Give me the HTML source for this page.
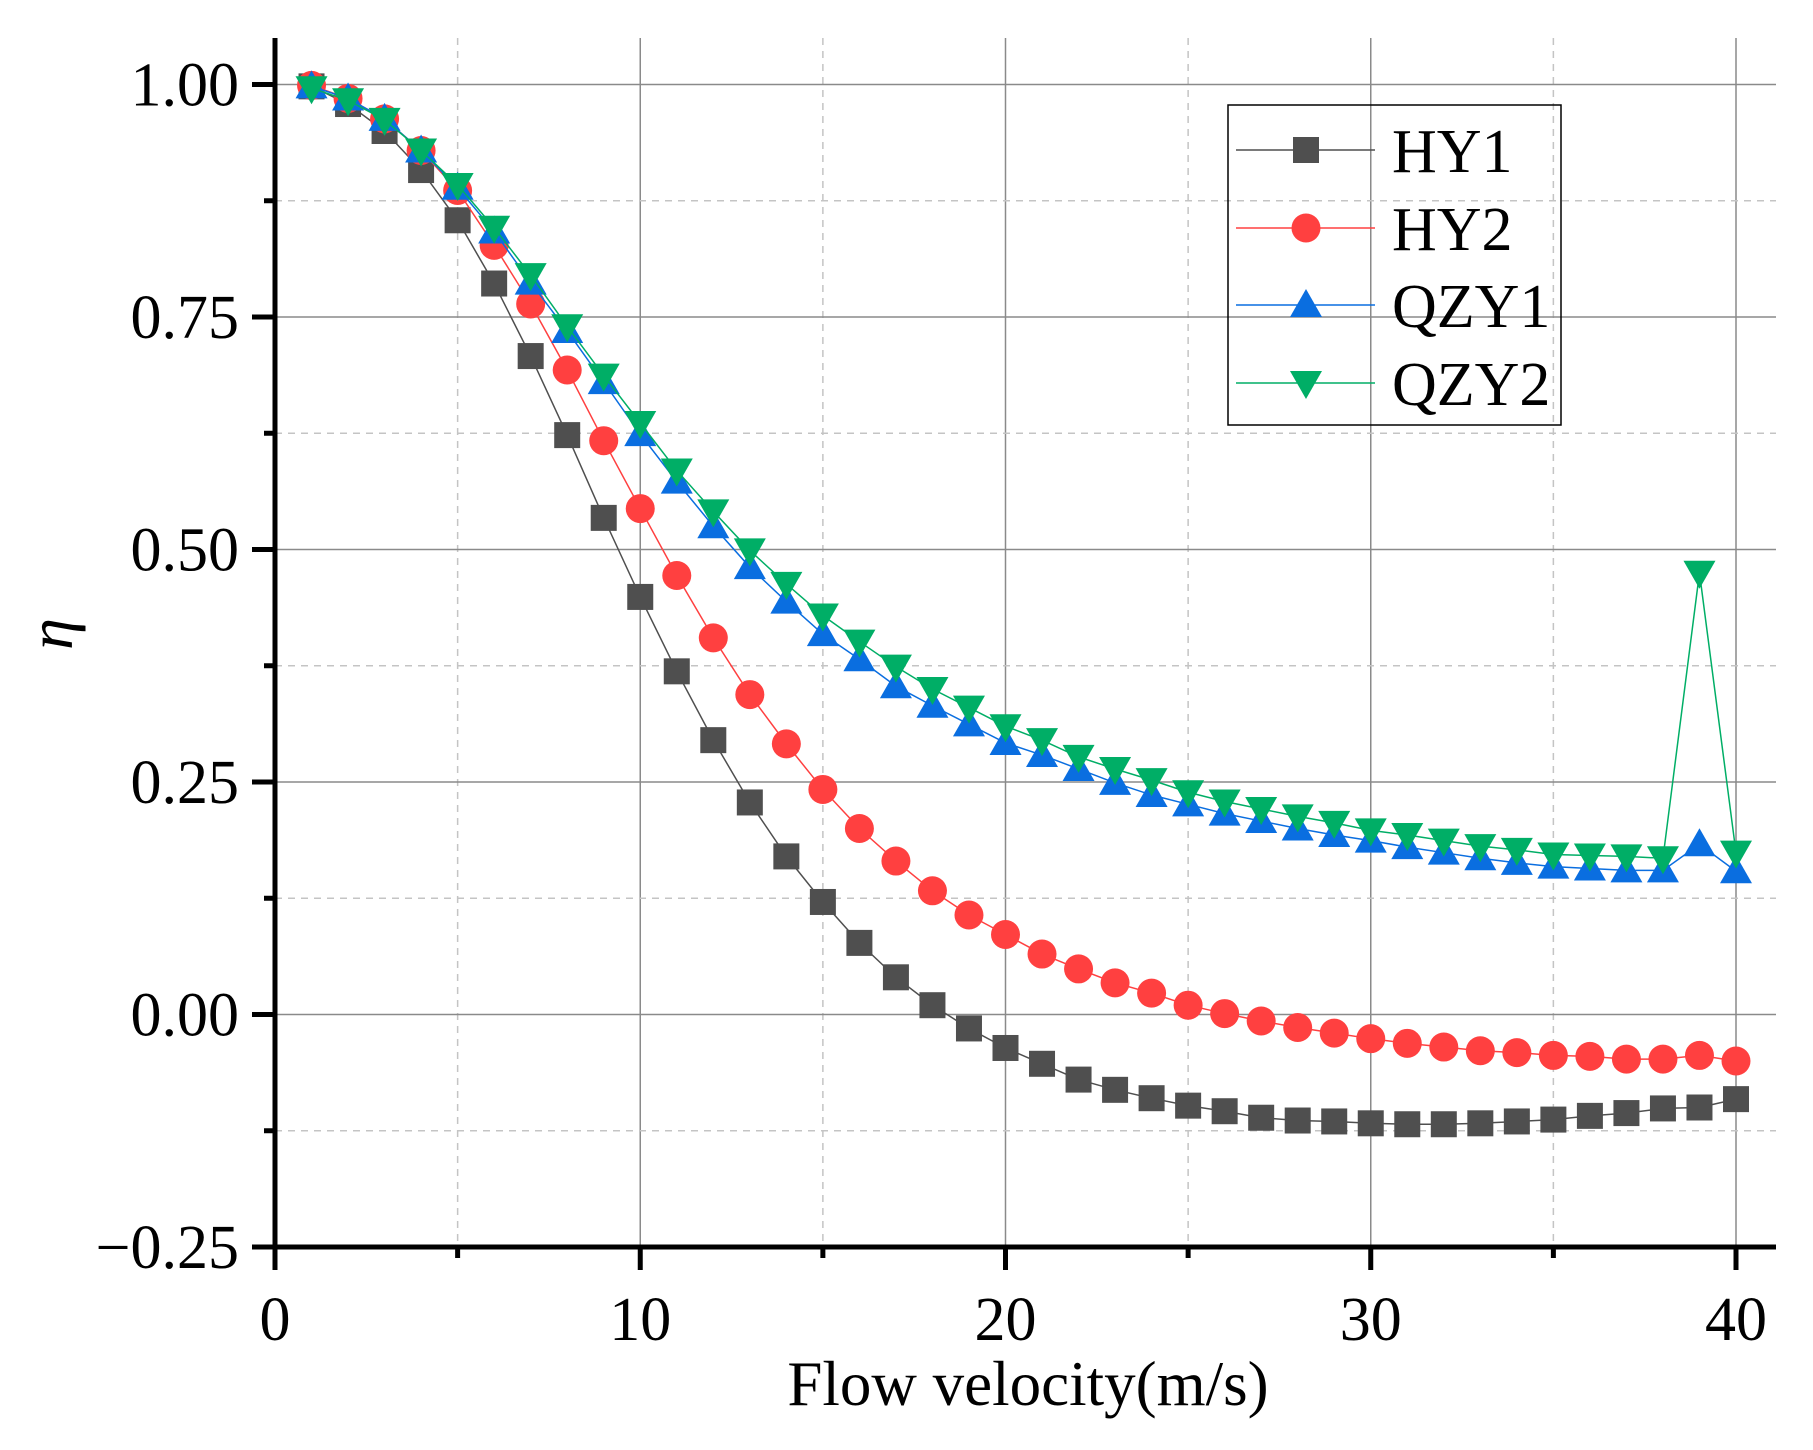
<!DOCTYPE html>
<html><head><meta charset="utf-8"><style>
html,body{margin:0;padding:0;background:#fff;}
svg text{font-family:"Liberation Serif",serif;fill:#000;}
</style></head><body>
<svg id="chart" width="1813" height="1445" xmlns="http://www.w3.org/2000/svg">
<g id="grid"></g>
<g id="series"></g>
<g id="axes"></g>
<g id="legend"></g>
</svg>
<script>
const xs = [1,2,3,4,5,6,7,8,9,10,11,12,13,14,15,16,17,18,19,20,21,22,23,24,25,26,27,28,29,30,31,32,33,34,35,36,37,38,39,40];
const hy1 = [0.998,0.979,0.950,0.908,0.854,0.786,0.708,0.623,0.534,0.449,0.369,0.295,0.228,0.170,0.121,0.077,0.040,0.010,-0.015,-0.036,-0.053,-0.070,-0.081,-0.090,-0.098,-0.104,-0.111,-0.114,-0.115,-0.117,-0.118,-0.118,-0.117,-0.115,-0.113,-0.109,-0.106,-0.101,-0.100,-0.091];
const hy2 = [0.999,0.985,0.963,0.929,0.886,0.827,0.764,0.693,0.617,0.544,0.472,0.405,0.344,0.291,0.242,0.200,0.165,0.133,0.107,0.086,0.065,0.049,0.034,0.023,0.010,0.001,-0.007,-0.014,-0.020,-0.026,-0.031,-0.035,-0.039,-0.041,-0.044,-0.045,-0.048,-0.048,-0.044,-0.050];
const qzy1 = [0.998,0.985,0.963,0.929,0.889,0.842,0.787,0.735,0.680,0.624,0.573,0.525,0.481,0.444,0.409,0.382,0.353,0.332,0.312,0.292,0.279,0.264,0.249,0.236,0.226,0.216,0.208,0.200,0.193,0.187,0.180,0.174,0.168,0.163,0.159,0.157,0.155,0.155,0.183,0.154];
const qzy2 = [0.996,0.983,0.962,0.929,0.892,0.846,0.795,0.740,0.687,0.636,0.585,0.541,0.499,0.463,0.429,0.401,0.374,0.350,0.330,0.310,0.295,0.277,0.264,0.252,0.239,0.229,0.221,0.213,0.206,0.198,0.193,0.187,0.181,0.177,0.172,0.171,0.170,0.168,0.475,0.174];
const xTicks = [0,10,20,30,40];
const xTickLabels = ["0","10","20","30","40"];
const yTicks = [-0.25,0,0.25,0.5,0.75,1.0];
const yTickLabels = ["\u22120.25","0.00","0.25","0.50","0.75","1.00"];

const NS="http://www.w3.org/2000/svg";
const X0=275, X1=1736, Y0=1247, Y1=84.5;
const AX_R=1776, AX_T=38;
function xS(v){return X0+(v-0)/40*(X1-X0);}
function yS(v){return Y0-(v+0.25)/1.25*(Y0-Y1);}
function mk(tag,attrs,parent){const e=document.createElementNS(NS,tag);for(const k in attrs)e.setAttribute(k,attrs[k]);parent.appendChild(e);return e;}
const grid=document.getElementById('grid'),ser=document.getElementById('series'),axes=document.getElementById('axes'),leg=document.getElementById('legend');

for(let v=5;v<=40;v+=5){const major=v%10===0;
 const l=mk('line',{x1:xS(v),x2:xS(v),y1:AX_T,y2:Y0,stroke:major?'#8a8a8a':'#c4c4c4','stroke-width':1.5,'stroke-dasharray':major?'none':'7,6'},grid);
 
 }
for(let i=1;i<=10;i++){const v=-0.25+i*0.125;const major=i%2===0;
 const l=mk('line',{x1:X0,x2:AX_R,y1:yS(v),y2:yS(v),stroke:major?'#8a8a8a':'#c4c4c4','stroke-width':1.5,'stroke-dasharray':major?'none':'7,6'},grid);
 
 }

let a=mk('line',{x1:X0,x2:X0,y1:AX_T,y2:Y0+2.5,stroke:'#000','stroke-width':5},axes);


a=mk('line',{x1:X0-2.5,x2:AX_R,y1:Y0,y2:Y0,stroke:'#000','stroke-width':5},axes);


for(let v=0;v<=40;v+=5){const major=v%10===0;
 const t=mk('line',{x1:xS(v),x2:xS(v),y1:Y0,y2:Y0+(major?23:11),stroke:'#000','stroke-width':5},axes);
 
 }
for(let i=0;i<=10;i++){const v=-0.25+i*0.125;const major=i%2===0;
 const t=mk('line',{x1:X0,x2:X0-(major?23:11),y1:yS(v),y2:yS(v),stroke:'#000','stroke-width':5},axes);
 
 }
xTicks.forEach((v,i)=>{const t=mk('text',{x:xS(v),y:1340,'text-anchor':'middle','font-size':62},axes);t.textContent=xTickLabels[i];
 
 });
yTicks.forEach((v,i)=>{const t=mk('text',{x:239,y:yS(v)+21,'text-anchor':'end','font-size':62},axes);t.textContent=yTickLabels[i];
 
 });
let tt=mk('text',{x:1028,y:1405,'text-anchor':'middle','font-size':63},axes);tt.textContent='Flow velocity(m/s)';


tt=mk('text',{x:0,y:0,'text-anchor':'middle','font-size':64,'font-style':'italic',transform:'translate(72,634) rotate(-90)'},axes);tt.textContent='\u03b7';



function marker(shape,cx,cy,color,parent){
 if(shape==='square')return mk('rect',{x:cx-13,y:cy-13,width:26,height:26,fill:color},parent);
 if(shape==='circle')return mk('circle',{cx:cx,cy:cy,r:14.5,fill:color},parent);
 if(shape==='up')return mk('polygon',{points:`${cx},${cy-16} ${cx+16},${cy+12} ${cx-16},${cy+12}`,fill:color},parent);
 return mk('polygon',{points:`${cx},${cy+16} ${cx+16},${cy-12} ${cx-16},${cy-12}`,fill:color},parent);
}
const defs=[
 {name:'HY1',data:hy1,color:'#4f4f4f',shape:'square'},
 {name:'HY2',data:hy2,color:'#ff4040',shape:'circle'},
 {name:'QZY1',data:qzy1,color:'#0a6ee0',shape:'up'},
 {name:'QZY2',data:qzy2,color:'#00ae66',shape:'down'}];
defs.forEach((d,k)=>{
 const g=mk('g',{},ser);
 
 
 const pl=mk('polyline',{points:xs.map((x,i)=>xS(x)+','+yS(d.data[i])).join(' '),fill:'none',stroke:d.color,'stroke-width':1.5},g);
 
 
 xs.forEach((x,i)=>{const m=marker(d.shape,xS(x),yS(d.data[i]),d.color,g);
  
  });
 const ly=[150,228,305,383][k];
 const lg=mk('g',{},leg);
 
 
 mk('line',{x1:1236,x2:1375,y1:ly,y2:ly,stroke:d.color,'stroke-width':1.5},lg);
 marker(d.shape,1306,ly,d.color,lg);
 const lt=mk('text',{x:1392,y:ly+22,'font-size':62},lg);lt.textContent=d.name;
});
const box=mk('rect',{x:1228,y:105,width:333,height:320,fill:'none',stroke:'#000','stroke-width':1.5},leg);


</script>
</body></html>
